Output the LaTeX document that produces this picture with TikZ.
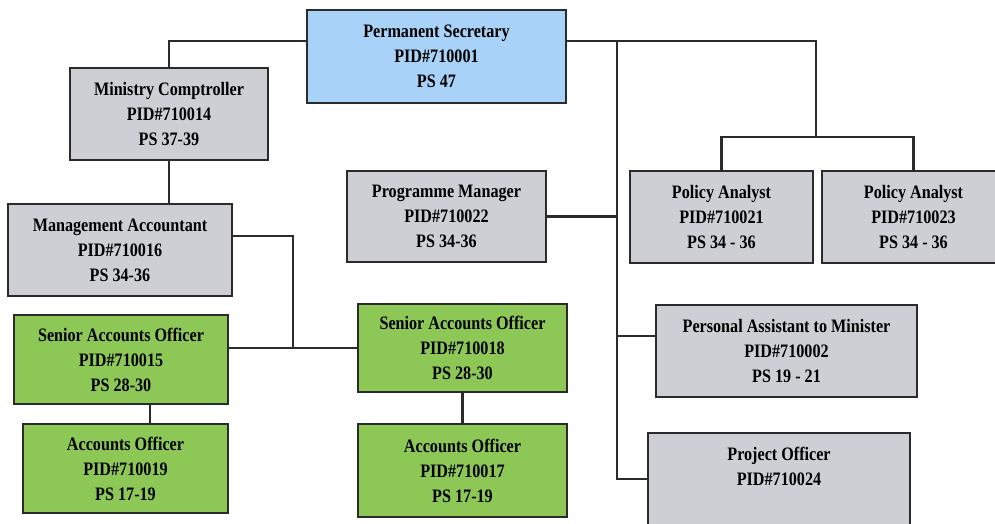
\documentclass[tikz,border=0pt]{standalone}
\usepackage{fontspec}
\setmainfont{Liberation Serif}[FakeStretch=0.85]
\usepackage{tikz}

\definecolor{psblue}{HTML}{A8D2F8}
\definecolor{postgray}{HTML}{CDCFD4}
\definecolor{postgreen}{HTML}{8DC857}
\definecolor{linedark}{HTML}{2B2B2B}

\begin{document}
\begin{tikzpicture}[x=1pt,y=-1pt,
	post/.style={draw=linedark,line width=2pt,align=center,inner sep=0pt,
		font=\bfseries\fontsize{19}{25}\selectfont},
	top/.style={post,fill=psblue},
	grey/.style={post,fill=postgray},
	green/.style={post,fill=postgreen},
	link/.style={draw=linedark,line width=2.2pt}]
\useasboundingbox (0,0) rectangle (995,523);

% posts
\node[top,minimum width=259pt,minimum height=93pt] (ps) at (436.5,56.5)
	{Permanent Secretary\\PID\#710001\\PS 47};
\node[grey,minimum width=198pt,minimum height=92pt] (mc) at (169,114)
	{Ministry Comptroller\\PID\#710014\\PS 37-39};
\node[grey,minimum width=224pt,minimum height=92pt] (ma) at (120,250)
	{Management Accountant\\PID\#710016\\PS 34-36};
\node[grey,minimum width=199pt,minimum height=91pt] (pm) at (446.5,216.5)
	{Programme Manager\\PID\#710022\\PS 34-36};
\node[grey,minimum width=183pt,minimum height=92pt] (pa1) at (721.5,217)
	{Policy Analyst\\PID\#710021\\PS 34 - 36};
\node[grey,minimum width=183pt,minimum height=92pt] (pa2) at (913.5,217)
	{Policy Analyst\\PID\#710023\\PS 34 - 36};
\node[green,minimum width=214pt,minimum height=89pt] (sao1) at (121,359.5)
	{Senior Accounts Officer\\PID\#710015\\PS 28-30};
\node[green,minimum width=209pt,minimum height=88pt] (sao2) at (462.5,348)
	{Senior Accounts Officer\\PID\#710018\\PS 28-30};
\node[green,minimum width=205pt,minimum height=89pt] (ao1) at (125.5,468.5)
	{Accounts Officer\\PID\#710019\\PS 17-19};
\node[green,minimum width=209pt,minimum height=93pt] (ao2) at (462.5,470.5)
	{Accounts Officer\\PID\#710017\\PS 17-19};
\node[grey,minimum width=261pt,minimum height=92pt] (pasm) at (786.5,351)
	{Personal Assistant to Minister\\PID\#710002\\PS 19 - 21};
\node[grey,minimum width=262pt,minimum height=92pt] (po) at (779,479)
	{Project Officer\\PID\#710024\\\mbox{}};

% joints
\coordinate (trunk) at (617,41);
\coordinate (pajoin) at (816,137);
\coordinate (saojoin) at (293,347);

% lines
\draw[link] ([yshift=15.5pt]ps.west) -| (mc.north);
\draw[link] (mc.south) -- (mc.south |- ma.north);
\draw[link] ([yshift=15.5pt]ps.east) -- (trunk) -- (trunk |- po.west) -- (po.west);
\draw[link] (pm.east) -- (pm.east -| trunk);
\draw[link] ([yshift=15pt]pasm.west) -- ([yshift=15pt]pasm.west -| trunk);
\draw[link] (trunk) -| (pajoin);
\draw[link] (pa1.north) |- (pajoin) -| (pa2.north);
\draw[link] ([yshift=14pt]ma.east) -| (saojoin);
\draw[link] (sao2.west) -- (sao2.west -| sao1.east);
\draw[link] ([xshift=29pt]sao1.south) -- ([xshift=29pt]sao1.south |- ao1.north);
\draw[link] (sao2.south) -- (ao2.north);
\end{tikzpicture}
\end{document}
